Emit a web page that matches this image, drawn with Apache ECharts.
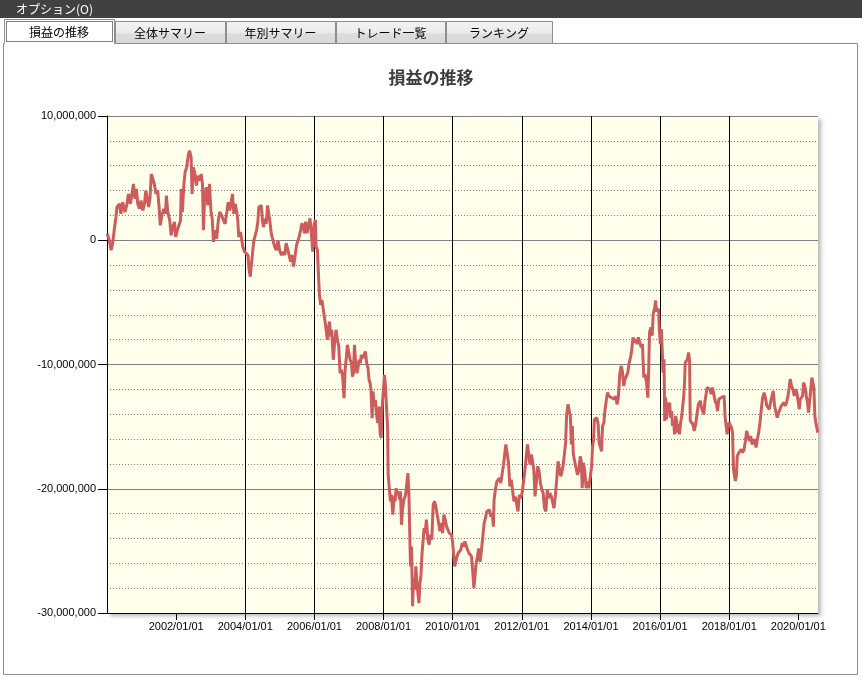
<!DOCTYPE html>
<html>
<head>
<meta charset="utf-8">
<script src="https://cdn.jsdelivr.net/npm/echarts@6/dist/echarts.min.js"></script>
<style>
html,body{margin:0;padding:0;background:#fff;}
#chart{width:862px;height:679px;}
</style>
</head>
<body>
<div id="chart"></div>
<script>
const menuText = 'オプション(O)';
const tabNames = ['損益の推移', '全体サマリー', '年別サマリー', 'トレード一覧', 'ランキング'];
const chartTitle = '損益の推移';

const xTickDates = ['2002-01-01','2004-01-01','2006-01-01','2008-01-01','2010-01-01','2012-01-01','2014-01-01','2016-01-01','2018-01-01','2020-01-01'];
const xTickLabels = ['2002/01/01','2004/01/01','2006/01/01','2008/01/01','2010/01/01','2012/01/01','2014/01/01','2016/01/01','2018/01/01','2020/01/01'];
const xStart = '2000-01-01';

const dates = [
'2000-01-03','2000-01-25','2000-02-13','2000-02-29','2000-03-17','2000-04-05','2000-04-15','2000-05-10','2000-05-27','2000-06-14','2000-07-09','2000-07-30','2000-08-14','2000-09-05','2000-09-18','2000-10-06','2000-10-23','2000-11-07','2000-11-21','2000-12-09','2000-12-26',
'2001-01-13','2001-01-31','2001-02-14','2001-03-05','2001-03-16','2001-03-30','2001-04-13','2001-05-01','2001-05-15','2001-06-02','2001-06-20','2001-07-07','2001-07-17','2001-08-02','2001-08-23','2001-09-10','2001-09-20','2001-10-04','2001-10-25','2001-11-09','2001-11-26','2001-12-14','2001-12-27',
'2002-01-18','2002-02-16','2002-02-23','2002-03-07','2002-03-24','2002-04-05','2002-04-22','2002-05-10','2002-05-23','2002-06-08','2002-06-18','2002-07-02','2002-07-19','2002-08-03','2002-08-17','2002-09-05','2002-09-22','2002-10-06','2002-10-16','2002-10-27','2002-11-14','2002-12-02','2002-12-19',
'2003-01-03','2003-01-17','2003-01-30','2003-02-17','2003-03-05','2003-03-22','2003-04-06','2003-04-27','2003-05-15','2003-06-02','2003-06-20','2003-07-04','2003-07-21','2003-08-05','2003-08-19','2003-09-02','2003-09-16','2003-10-04','2003-10-14','2003-10-24','2003-11-12','2003-11-26','2003-12-06','2003-12-24',
'2004-01-11','2004-01-29','2004-02-09','2004-02-23','2004-03-10','2004-03-17','2004-04-01','2004-04-15','2004-04-29','2004-05-13','2004-05-23','2004-06-18','2004-07-02','2004-07-12','2004-07-26','2004-08-10','2004-08-24','2004-09-08','2004-09-18','2004-10-02','2004-10-19','2004-11-07','2004-11-24','2004-12-12','2004-12-29',
'2005-01-17','2005-02-04','2005-02-21','2005-03-08','2005-03-26','2005-04-13','2005-04-24','2005-05-08','2005-05-25','2005-06-12','2005-06-26','2005-07-10','2005-07-24','2005-08-08','2005-08-22','2005-09-06','2005-09-20','2005-09-30','2005-10-14','2005-11-01','2005-11-15','2005-11-29','2005-12-14','2005-12-27',
'2006-01-11','2006-01-18','2006-02-02','2006-02-13','2006-02-23','2006-03-07','2006-03-21','2006-04-05','2006-04-15','2006-04-26','2006-05-10','2006-05-17','2006-05-31','2006-06-10','2006-06-21','2006-07-02','2006-07-19','2006-08-03','2006-08-17','2006-09-01','2006-09-15','2006-09-29','2006-10-12','2006-10-26','2006-11-10','2006-11-21','2006-12-05','2006-12-15','2006-12-29',
'2007-01-13','2007-01-27','2007-02-07','2007-02-17','2007-02-28','2007-03-12','2007-03-26','2007-04-06','2007-04-17','2007-05-01','2007-05-11','2007-05-25','2007-06-09','2007-06-23','2007-07-07','2007-07-21','2007-08-01','2007-08-12','2007-08-22','2007-09-02','2007-09-13','2007-09-23','2007-10-07','2007-10-18','2007-11-01','2007-11-15','2007-11-26','2007-12-07','2007-12-17',
'2008-01-01','2008-01-11','2008-01-22','2008-02-02','2008-02-13','2008-02-19','2008-03-03','2008-03-14','2008-03-24','2008-04-08','2008-04-22','2008-05-02','2008-05-13','2008-05-23','2008-06-07','2008-06-18','2008-06-28','2008-07-09','2008-07-19','2008-08-03','2008-08-21','2008-09-04','2008-09-15','2008-09-25','2008-10-06','2008-10-12','2008-10-23','2008-11-03','2008-11-14','2008-11-28','2008-12-08','2008-12-19','2008-12-29',
'2009-01-09','2009-01-20','2009-01-31','2009-02-10','2009-02-21','2009-03-05','2009-03-16','2009-03-29','2009-04-13','2009-04-27','2009-05-11','2009-05-25','2009-06-09','2009-06-23','2009-07-07','2009-07-21','2009-08-05','2009-08-19','2009-09-02','2009-09-16','2009-09-30','2009-10-14','2009-10-28','2009-11-12','2009-11-26','2009-12-10','2009-12-20',
'2010-01-01','2010-01-11','2010-01-22','2010-02-05','2010-02-16','2010-02-28','2010-03-14','2010-03-28','2010-04-11','2010-04-26','2010-05-09','2010-05-23','2010-06-07','2010-06-21','2010-07-05','2010-07-19','2010-07-30','2010-08-13','2010-08-21','2010-09-05','2010-09-19','2010-10-03','2010-10-17','2010-11-01','2010-11-15','2010-11-29','2010-12-13','2010-12-27',
'2011-01-11','2011-01-25','2011-02-09','2011-02-23','2011-03-07','2011-03-14','2011-03-28','2011-04-12','2011-04-26','2011-05-10','2011-05-24','2011-06-08','2011-06-22','2011-07-06','2011-07-17','2011-08-01','2011-08-14','2011-08-28','2011-09-12','2011-09-26','2011-10-10','2011-10-24','2011-11-08','2011-11-22','2011-12-06','2011-12-20',
'2012-01-04','2012-01-18','2012-02-02','2012-02-16','2012-03-01','2012-03-14','2012-03-28','2012-04-12','2012-04-26','2012-05-07','2012-05-20','2012-06-04','2012-06-18','2012-07-02','2012-07-16','2012-07-31','2012-08-14','2012-08-28','2012-09-12','2012-09-26','2012-10-10','2012-10-24','2012-11-08','2012-11-22','2012-12-06','2012-12-20',
'2013-01-04','2013-01-18','2013-02-02','2013-02-16','2013-03-01','2013-03-14','2013-03-28','2013-04-08','2013-04-19','2013-05-03','2013-05-17','2013-05-28','2013-06-08','2013-06-18','2013-06-29','2013-07-13','2013-07-27','2013-08-11','2013-08-25','2013-09-09','2013-09-23','2013-09-30','2013-10-14','2013-10-28','2013-11-11','2013-11-25','2013-12-10','2013-12-24',
'2014-01-08','2014-01-18','2014-01-29','2014-02-06','2014-02-20','2014-03-04','2014-03-18','2014-03-28','2014-04-12','2014-04-23','2014-05-03','2014-05-17','2014-05-28','2014-06-11','2014-06-25','2014-07-09','2014-07-24','2014-08-07','2014-08-21','2014-09-05','2014-09-19','2014-10-03','2014-10-17','2014-11-01','2014-11-15','2014-11-29','2014-12-13','2014-12-27',
'2015-01-11','2015-01-25','2015-02-09','2015-02-23','2015-03-07','2015-03-21','2015-04-05','2015-04-19','2015-05-03','2015-05-17','2015-06-01','2015-06-15','2015-06-29','2015-07-13','2015-07-27','2015-08-11','2015-08-25','2015-09-02','2015-09-12','2015-09-26','2015-10-10','2015-10-21','2015-11-05','2015-11-15','2015-11-23','2015-12-07','2015-12-17','2015-12-24',
'2016-01-04','2016-01-15','2016-01-25','2016-02-02','2016-02-12','2016-02-19','2016-02-29','2016-03-10','2016-03-20','2016-04-01','2016-04-11','2016-04-21','2016-05-02','2016-05-12','2016-05-23','2016-06-03','2016-06-13','2016-06-24','2016-07-04','2016-07-14','2016-07-25','2016-08-05','2016-08-15','2016-08-26','2016-09-06','2016-09-16','2016-09-23','2016-10-07','2016-10-17','2016-10-28','2016-11-08','2016-11-15','2016-11-29','2016-12-13','2016-12-27',
'2017-01-11','2017-01-25','2017-02-09','2017-02-23','2017-03-03','2017-03-13','2017-03-27','2017-04-07','2017-04-18','2017-04-28','2017-05-12','2017-05-26','2017-06-10','2017-06-24','2017-07-08','2017-07-22','2017-08-05','2017-08-19','2017-08-30','2017-09-13','2017-09-27','2017-10-11','2017-10-25','2017-11-08','2017-11-19','2017-11-29','2017-12-10','2017-12-20',
'2018-01-01','2018-01-15','2018-01-25','2018-02-05','2018-02-15','2018-02-26','2018-03-06','2018-03-17','2018-03-27','2018-04-11','2018-04-25','2018-05-09','2018-05-23','2018-06-07','2018-06-21','2018-07-04','2018-07-18','2018-08-02','2018-08-16','2018-08-30','2018-09-13','2018-09-27','2018-10-11','2018-10-25','2018-11-08','2018-11-22','2018-12-06','2018-12-20',
'2019-01-04','2019-01-18','2019-02-02','2019-02-15','2019-03-01','2019-03-13','2019-03-27','2019-04-11','2019-04-25','2019-05-09','2019-05-23','2019-06-07','2019-06-21','2019-07-04','2019-07-18','2019-08-02','2019-08-16','2019-08-30','2019-09-13','2019-09-27','2019-10-07','2019-10-21','2019-11-05','2019-11-19','2019-12-03','2019-12-17',
'2020-01-01','2020-01-11','2020-01-21','2020-02-02','2020-02-15','2020-02-26','2020-03-06','2020-03-17','2020-03-27','2020-04-07','2020-04-18','2020-05-02','2020-05-12','2020-05-23','2020-06-03','2020-06-13','2020-06-24','2020-07-04','2020-07-14','2020-07-25'
];

const values = [
530000,0,-800000,-270000,800000,1870000,2670000,2930000,2130000,3070000,2270000,2930000,3730000,2930000,3600000,4530000,3330000,4130000,2930000,2530000,3200000,
2400000,2930000,4000000,3870000,2670000,3330000,5330000,5330000,4530000,3730000,4000000,2400000,1200000,2000000,2530000,2130000,3600000,2270000,1600000,400000,1070000,1470000,270000,
930000,1600000,4130000,2270000,4530000,5470000,5870000,6930000,7200000,6670000,3730000,5870000,5330000,4400000,5200000,4800000,5330000,4530000,800000,3200000,4270000,2800000,4530000,
2400000,1730000,-130000,800000,130000,1600000,2270000,2000000,1600000,1330000,2270000,3070000,2400000,3070000,3730000,2130000,2930000,2270000,1600000,270000,670000,800000,-530000,-930000,
-1070000,-1200000,-2270000,-2930000,-2800000,-1070000,0,400000,800000,1470000,2670000,2800000,1470000,1070000,1730000,1330000,2800000,2000000,1470000,530000,0,-530000,-800000,0,-800000,
-1200000,-930000,-1200000,-240000,-780000,-640000,-1720000,-1180000,-2120000,-1180000,-380000,-240000,290000,830000,1370000,970000,560000,1500000,560000,1230000,1770000,560000,-910000,1230000,
1640000,-510000,-780000,-2920000,-4400000,-5200000,-4800000,-4660000,-6140000,-6680000,-6810000,-8020000,-6940000,-6540000,-7750000,-7210000,-9620000,-8150000,-7210000,-8020000,-8550000,-10700000,-10430000,-10970000,-12710000,-10430000,-9360000,-8420000,-8550000,
-9620000,-9890000,-10970000,-10700000,-8420000,-9890000,-10700000,-10290000,-9620000,-9890000,-9220000,-9490000,-9220000,-8950000,-9890000,-10290000,-11230000,-11500000,-12040000,-14320000,-12170000,-13380000,-12840000,-13910000,-14720000,-13380000,-15520000,-15920000,-13510000,
-13380000,-10830000,-11770000,-13510000,-14990000,-18870000,-19010000,-21020000,-20480000,-22090000,-20620000,-21020000,-19950000,-20480000,-20210000,-20880000,-20210000,-22900000,-21690000,-20880000,-20480000,-20350000,-18740000,-20350000,-20480000,-26250000,-24640000,-29460000,-27180000,-28120000,-26250000,-27590000,-27450000,
-29200000,-27590000,-26920000,-25310000,-25170000,-23160000,-23570000,-22490000,-24100000,-24500000,-23700000,-24100000,-21290000,-21020000,-21420000,-21290000,-22760000,-23430000,-22760000,-23570000,-22090000,-22490000,-23030000,-23300000,-23570000,-23430000,-23700000,
-24370000,-24500000,-26250000,-26380000,-25440000,-25170000,-25040000,-24910000,-24370000,-24640000,-24240000,-24100000,-24910000,-25170000,-25040000,-25440000,-26510000,-27990000,-27900000,-26010000,-25470000,-24800000,-25880000,-24930000,-23850000,-22780000,-22370000,-21830000,
-21970000,-21700000,-22240000,-21970000,-23050000,-20890000,-20080000,-19410000,-19540000,-19140000,-19540000,-19410000,-18060000,-17120000,-16440000,-17250000,-17920000,-19810000,-19270000,-19270000,-21020000,-20620000,-20490000,-21830000,-20490000,-20750000,
-20350000,-19540000,-18600000,-17520000,-16440000,-16580000,-18060000,-17250000,-17390000,-18460000,-20620000,-20750000,-18190000,-18600000,-19540000,-20080000,-20350000,-21560000,-21830000,-20080000,-20750000,-20350000,-20620000,-20750000,-21560000,-20620000,
-19270000,-17790000,-17790000,-19000000,-18600000,-18060000,-17920000,-16310000,-14020000,-13210000,-13210000,-14150000,-16440000,-14960000,-17250000,-17790000,-17650000,-18870000,-18600000,-17390000,-17920000,-19950000,-17920000,-18600000,-19950000,-19410000,-19950000,-19810000,
-18190000,-16580000,-16040000,-14420000,-14420000,-14290000,-14820000,-16310000,-16170000,-16980000,-14960000,-14690000,-13750000,-12940000,-12260000,-12530000,-12400000,-12670000,-12530000,-12800000,-12530000,-13210000,-12670000,-10780000,-10110000,-10510000,-11730000,-11190000,
-11190000,-10650000,-9840000,-9430000,-8890000,-7820000,-8220000,-7950000,-8360000,-7820000,-7950000,-8630000,-8360000,-11050000,-10780000,-11460000,-12670000,-10650000,-7410000,-7010000,-7680000,-5930000,-5390000,-4850000,-5670000,-5670000,-5540000,-7150000,
-8360000,-7150000,-7280000,-10650000,-9570000,-14540000,-12660000,-14410000,-13060000,-13870000,-13060000,-14270000,-13740000,-14950000,-14540000,-15620000,-14140000,-14540000,-15480000,-14810000,-15620000,-14680000,-14270000,-13470000,-12660000,-11450000,-9840000,-9970000,-9570000,-9030000,-9700000,-14540000,-14680000,-14810000,-15350000,
-14810000,-14950000,-13200000,-13330000,-12930000,-13470000,-13330000,-14010000,-13060000,-12930000,-11850000,-11720000,-11990000,-12390000,-11850000,-11990000,-12930000,-13200000,-13740000,-12800000,-12800000,-12660000,-12800000,-12530000,-14270000,-14140000,-15620000,-14950000,
-14680000,-14680000,-15080000,-15480000,-18440000,-18580000,-19380000,-18980000,-17370000,-17100000,-16960000,-16830000,-17100000,-16830000,-16160000,-15350000,-15750000,-16160000,-15750000,-16420000,-16560000,-16020000,-16690000,-16020000,-15480000,-14680000,-13600000,-12660000,
-12260000,-12660000,-13330000,-13330000,-13600000,-13060000,-13200000,-12120000,-13330000,-13470000,-14270000,-13870000,-13600000,-13330000,-13200000,-13060000,-13330000,-13060000,-12530000,-11850000,-11180000,-11720000,-11990000,-12530000,-11990000,-12260000,
-13060000,-13600000,-12800000,-12660000,-12530000,-11450000,-11590000,-11990000,-12660000,-13060000,-13870000,-14010000,-11990000,-11050000,-11180000,-11850000,-14140000,-14680000,-14810000,-15480000
];

const yMin = -30000000, yMax = 10000000, yStep = 10000000;

// ---------- build ----------
const DAY = 86400000;
const xTickValues = xTickDates.map(d => Date.parse(d));
const seriesData = dates.map((d, i) => [Date.parse(d), values[i]]);
const xMin = Date.parse(xStart);
const xMax = Date.parse(dates[dates.length - 1]) + 2 * DAY;

const fmtNum = v => {
  const s = Math.abs(v).toString().replace(/\B(?=(\d{3})+(?!\d))/g, ',');
  return (v < 0 ? '-' : '') + s;
};

const uiFont = '"Noto Sans CJK JP", "Liberation Sans", sans-serif';
const axisFont = '"Liberation Sans", Arial, sans-serif';

const tabGeo = [
  {x: 4, w: 110, sel: true},
  {x: 115, w: 110},
  {x: 226, w: 109},
  {x: 336, w: 109},
  {x: 446, w: 106}
];

const graphics = [];
// panel
graphics.push({type:'rect', shape:{x:3.5, y:43.5, width:854, height:631}, style:{fill:'#fff', stroke:'#8d8d8d', lineWidth:1}, z:-10, silent:true});
// top menu bar
graphics.push({type:'rect', shape:{x:0, y:0, width:862, height:18}, style:{fill:'#414141'}, z:-10, silent:true});
graphics.push({type:'text', x:16, y:9, style:{text:menuText, fill:'#fff', font:'12px ' + uiFont, textVerticalAlign:'middle'}, silent:true});
tabNames.forEach((name, i) => {
  const g = tabGeo[i];
  if (g.sel) {
    graphics.push({type:'rect', shape:{x:g.x + 0.5, y:19.5, width:g.w, height:25}, style:{fill:'#fff', stroke:'#8d8d8d', lineWidth:1}, z:-5, silent:true});
    graphics.push({type:'rect', shape:{x:g.x + 0.5, y:43, width:g.w, height:3}, style:{fill:'#fff'}, z:-4, silent:true});
    graphics.push({type:'rect', shape:{x:g.x + 2.5, y:21.5, width:g.w - 4, height:20}, style:{fill:'none', stroke:'#000', lineWidth:1, lineDash:[1,1]}, z:-3, silent:true});
  } else {
    graphics.push({type:'rect', shape:{x:g.x + 0.5, y:21.5, width:g.w, height:22}, style:{
      fill:{type:'linear', x:0, y:0, x2:0, y2:1, colorStops:[{offset:0, color:'#f3f3f3'},{offset:0.5,color:'#ebebeb'},{offset:0.55,color:'#dedede'},{offset:1, color:'#d6d6d6'}]},
      stroke:'#8d8d8d', lineWidth:1}, z:-5, silent:true});
  }
  graphics.push({type:'text', x:g.x + g.w / 2, y: g.sel ? 32 : 33, style:{text:name, fill:'#000', font:'12px ' + uiFont, textAlign:'center', textVerticalAlign:'middle'}, silent:true});
});

const chart = echarts.init(document.getElementById('chart'), null, {renderer:'canvas'});
chart.setOption({
  animation: false,
  backgroundColor: '#fff',
  title: {
    text: chartTitle, left: 'center', top: 64,
    textStyle: {fontSize: 17, fontWeight: 'bold', color: '#3c3c3c', fontFamily: uiFont,
      textShadowColor: 'rgba(90,100,170,0.55)', textShadowOffsetX: 1, textShadowOffsetY: 1, textShadowBlur: 0}
  },
  graphic: graphics,
  grid: {
    left: 107, top: 116, width: 711, height: 497,
    show: true, backgroundColor: '#FFFFEC', borderWidth: 0,
    shadowColor: 'rgba(0,0,0,0.28)', shadowBlur: 4, shadowOffsetX: 3, shadowOffsetY: 3
  },
  xAxis: {
    type: 'value', min: xMin, max: xMax, interval: 730.5 * DAY,
    axisLine: {show: true, onZero: false, lineStyle: {color: '#000', width: 1}},
    axisTick: {show: true, length: 7, lineStyle: {color: '#000'}, customValues: xTickValues},
    axisLabel: {
      customValues: xTickValues, color: '#000', fontSize: 11, fontFamily: axisFont, margin: 8,
      formatter: v => { const k = xTickValues.indexOf(v); return k >= 0 ? xTickLabels[k] : ''; }
    },
    splitLine: {show: true, showMinLine: false, showMaxLine: false, lineStyle: {color: '#000', width: 1}}
  },
  yAxis: {
    type: 'value', min: yMin, max: yMax, interval: yStep,
    axisLine: {show: true, lineStyle: {color: '#000', width: 1}},
    axisTick: {show: true, length: 9, lineStyle: {color: '#000'}},
    axisLabel: {color: '#000', fontSize: 11, fontFamily: axisFont, margin: 11, formatter: v => fmtNum(v)},
    splitLine: {show: true, showMinLine: false, lineStyle: {color: '#7f7f7f', width: 1}},
    minorTick: {show: false, splitNumber: 5},
    minorSplitLine: {show: true, lineStyle: {color: '#7f7f7f', width: 1, type: [1, 2]}}
  },
  series: [{
    type: 'line', data: seriesData, showSymbol: false, symbol: 'none',
    lineStyle: {color: '#CD5C5C', width: 3}, z: 5
  }]
});
</script>
</body>
</html>
